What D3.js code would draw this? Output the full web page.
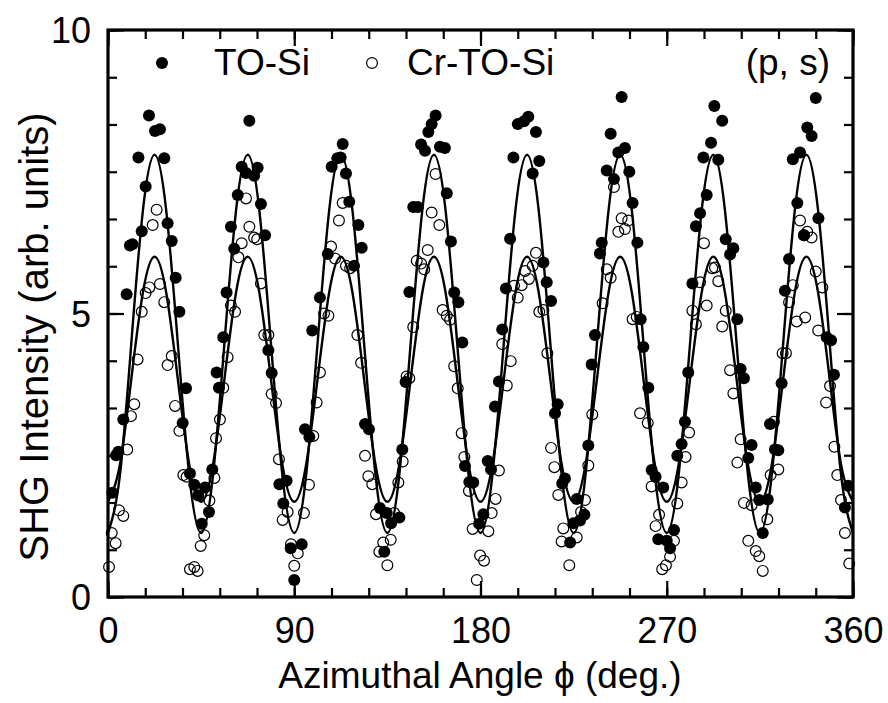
<!DOCTYPE html>
<html><head><meta charset="utf-8">
<script src="https://cdn.jsdelivr.net/npm/d3@7"></script>
<style>body{margin:0;background:#fff}svg{display:block}</style>
</head><body><svg id="c" width="888" height="703"></svg>
<script>
// TO-Si measured data [angle (deg), SHG intensity]
const toSi = [
[2.1,1.84],[3.9,2.50],[5.0,2.56],[7.4,3.13],[9.0,5.34],[10.6,6.20],[11.8,6.22],[14.7,7.75],[16.3,6.45],[18.2,7.24],
[19.8,8.49],[22.7,8.22],[25.1,8.25],[27.2,7.74],[28.8,6.59],[30.8,6.28],[32.7,5.63],[34.5,5.03],[36.1,3.07],[37.7,3.68],
[39.6,2.18],[41.7,1.98],[43.6,1.79],[45.3,1.29],[46.9,1.93],[48.8,1.50],[50.4,2.25],[52.5,3.96],[53.6,3.69],[55.7,4.58],
[57.3,5.37],[59.4,6.53],[61.0,6.14],[62.7,7.09],[64.6,7.59],[66.7,7.48],[68.3,8.40],[70.6,7.43],[72.3,7.57],[73.9,6.93],
[75.9,6.38],[77.5,4.35],[79.1,3.95],[82.8,1.99],[84.7,1.65],[86.3,2.05],[88.3,0.86],[90.0,0.30],[93.6,0.93],[95.2,2.96],
[97.3,2.82],[98.7,4.70],[102.4,5.28],[106.2,6.05],[108.1,7.59],[110.8,7.74],[112.4,7.75],[113.4,7.99],[115.0,7.47],[116.6,6.97],
[118.9,5.84],[121.0,6.56],[122.6,6.16],[124.2,3.05],[126.1,2.96],[131.4,1.57],[133.5,0.80],[134.7,1.48],[136.8,1.30],[140.8,1.40],
[142.2,2.60],[143.8,3.79],[145.6,5.38],[147.5,6.88],[149.7,6.88],[151.3,7.98],[153.2,7.87],[154.8,8.20],[156.4,8.34],[158.3,8.49],
[160.4,7.94],[162.8,7.92],[163.7,7.12],[165.7,6.27],[167.3,5.37],[169.3,5.20],[171.2,4.49],[172.5,2.31],[174.6,2.03],[176.5,2.02],
[179.3,1.29],[181.4,1.46],[183.5,2.40],[185.1,2.25],[187.0,3.36],[188.9,3.80],[190.5,4.72],[192.3,5.44],[194.3,6.32],[195.9,7.75],
[198.0,8.34],[201.0,8.39],[203.1,8.47],[205.2,7.47],[206.8,8.20],[208.4,7.69],[210.4,5.90],[212.0,5.55],[214.1,5.22],[216.0,3.24],
[217.3,3.40],[219.5,2.00],[220.8,2.09],[223.3,0.96],[224.9,1.30],[226.5,1.73],[228.1,1.35],[230.2,1.45],[232.1,2.67],[233.7,4.10],
[235.3,4.62],[237.7,6.06],[238.6,6.25],[241.0,7.52],[242.9,8.17],[244.5,7.37],[246.6,7.84],[248.2,8.82],[249.8,7.92],[251.9,7.50],
[253.5,6.95],[255.8,6.25],[257.4,4.90],[258.7,4.41],[261.1,3.69],[262.7,2.24],[264.6,2.12],[265.9,1.02],[268.3,1.93],[270.0,0.99],
[271.6,0.86],[273.5,1.18],[275.1,2.49],[277.2,2.70],[278.8,3.09],[280.4,3.96],[282.4,5.53],[284.1,6.54],[286.1,6.77],[287.7,7.75],
[289.3,7.09],[291.4,8.01],[293.0,8.66],[294.9,7.71],[296.8,8.40],[298.5,6.31],[300.6,6.04],[302.2,6.15],[304.1,4.90],[305.7,4.02],
[307.3,3.86],[309.4,2.45],[311.0,2.68],[313.0,1.93],[314.7,1.71],[316.4,1.13],[318.8,1.72],[319.9,3.05],[322.3,2.60],[323.9,2.59],
[325.5,3.77],[327.1,5.40],[329.1,5.96],[330.9,7.72],[333.1,6.95],[334.4,7.84],[336.3,6.38],[337.9,8.28],[340.0,8.13],[342.0,8.80],
[343.3,6.68],[347.3,4.58],[349.4,4.53],[350.8,3.92],[356.1,1.58],[357.7,1.96]
];
// Cr-TO-Si measured data [angle (deg), SHG intensity]
const crToSi = [
[0.5,0.53],[1.8,1.13],[3.7,0.95],[5.3,1.53],[7.4,1.43],[9.3,2.60],[11.1,3.19],[12.7,3.40],[14.3,4.19],[16.3,5.03],
[18.2,5.36],[20.0,5.46],[21.6,6.56],[23.5,6.83],[25.1,5.52],[27.2,5.20],[28.8,4.09],[30.8,4.25],[32.4,3.37],[34.5,2.93],
[36.4,2.15],[38.0,2.12],[39.6,0.49],[41.7,0.53],[43.3,0.46],[44.8,0.90],[46.5,1.09],[49.0,1.70],[51.4,2.10],[52.2,2.80],
[54.1,3.13],[55.7,3.69],[57.8,4.23],[59.4,5.14],[61.4,5.03],[63.0,5.99],[64.6,6.24],[66.7,7.03],[68.3,6.53],[70.6,6.34],
[72.1,6.31],[73.9,5.53],[75.5,4.62],[77.5,4.62],[79.1,3.58],[81.2,3.42],[82.6,2.43],[84.4,1.36],[86.8,1.50],[88.4,0.93],
[90.0,0.55],[91.7,0.77],[94.7,1.48],[97.1,1.98],[99.2,2.84],[100.8,3.43],[102.4,3.96],[104.4,5.00],[106.5,4.96],[107.8,6.18],
[109.7,5.97],[111.6,6.64],[113.4,6.95],[115.0,5.84],[117.0,5.80],[120.5,4.62],[122.3,4.13],[124.2,2.49],[125.8,2.13],[127.7,1.99],
[129.5,1.46],[131.1,0.80],[133.0,0.96],[135.0,0.56],[136.6,1.01],[138.3,1.48],[140.3,2.02],[142.4,2.39],[144.3,3.89],[145.6,3.86],
[147.5,4.76],[149.2,5.93],[151.3,5.88],[152.8,5.78],[154.5,6.12],[156.4,6.78],[158.3,7.46],[160.1,6.56],[161.7,5.06],[163.7,4.96],
[165.3,4.89],[167.3,4.07],[169.0,3.68],[170.9,2.89],[172.2,2.47],[174.4,1.87],[176.2,1.20],[178.2,0.30],[179.8,0.73],[181.7,0.64],
[183.8,1.16],[185.4,1.48],[187.3,1.73],[188.9,2.23],[190.5,4.46],[192.7,3.73],[194.6,4.16],[196.2,5.49],[198.0,5.28],[199.9,5.50],
[201.5,5.75],[203.4,5.61],[205.2,5.84],[206.8,6.07],[208.4,5.03],[210.4,5.06],[212.3,4.30],[214.1,2.63],[215.7,2.29],[217.6,1.80],
[219.2,0.98],[220.0,1.21],[222.9,0.56],[226.5,1.05],[228.6,1.50],[230.5,1.71],[232.1,2.32],[234.0,3.22],[239.0,5.18],[241.0,5.78],
[242.9,5.63],[244.5,7.23],[246.6,6.44],[248.2,6.68],[249.8,6.49],[251.4,6.64],[253.5,4.90],[255.5,4.94],[257.1,3.24],[260.8,3.07],
[262.7,1.95],[264.6,1.25],[266.3,1.45],[267.8,0.49],[269.6,0.56],[271.6,0.71],[273.5,0.99],[275.1,1.65],[277.2,2.02],[279.1,2.47],
[280.8,2.90],[282.4,5.05],[284.1,4.81],[286.1,5.55],[288.0,6.24],[289.3,5.14],[292.0,5.80],[293.3,5.81],[294.9,5.57],[296.8,4.77],
[298.5,5.05],[300.6,4.00],[302.2,3.59],[304.1,2.37],[305.7,2.78],[307.3,1.66],[309.4,0.99],[311.0,1.62],[313.0,0.81],[314.7,0.72],
[316.4,0.46],[318.6,1.37],[320.2,2.15],[321.8,3.09],[323.9,2.25],[326.0,4.30],[327.6,4.30],[329.1,5.20],[330.9,5.50],[332.8,4.86],
[334.4,6.64],[336.3,6.38],[336.9,4.93],[337.9,6.44],[340.0,6.34],[342.0,5.74],[343.2,4.70],[345.2,5.46],[347.0,3.43],[348.9,3.72],
[351.0,2.65],[352.4,2.15],[354.2,1.71],[356.1,1.13],[358.2,0.59]
];
const fitStep = 5.625;
const fitToSi = [
1.13,2.11,4.47,6.82,7.80,6.82,4.47,2.11, 1.13,2.11,4.47,6.82,7.80,6.82,4.47,2.11,
1.13,2.11,4.47,6.82,7.80,6.82,4.47,2.11, 1.13,2.11,4.47,6.82,7.80,6.82,4.47,2.11,
1.13,2.11,4.47,6.82,7.80,6.82,4.47,2.11, 1.13,2.11,4.47,6.82,7.80,6.82,4.47,2.11,
1.13,2.11,4.47,6.82,7.80,6.82,4.47,2.11, 1.13,2.11,4.47,6.82,7.80,6.82,4.47,2.11, 1.13];
const fitCrToSi = [
1.68,2.31,3.84,5.37,6.00,5.37,3.84,2.31, 1.68,2.31,3.84,5.37,6.00,5.37,3.84,2.31,
1.68,2.31,3.84,5.37,6.00,5.37,3.84,2.31, 1.68,2.31,3.84,5.37,6.00,5.37,3.84,2.31,
1.68,2.31,3.84,5.37,6.00,5.37,3.84,2.31, 1.68,2.31,3.84,5.37,6.00,5.37,3.84,2.31,
1.68,2.31,3.84,5.37,6.00,5.37,3.84,2.31, 1.68,2.31,3.84,5.37,6.00,5.37,3.84,2.31, 1.68];
const xMajorTicks = [0, 90, 180, 270, 360];
const xMinorTicks = d3.range(0, 361, 18);
const yMajorTicks = [0, 5, 10];
const yMinorTicks = d3.range(0, 13).map(k => k * 5 / 6);
const seriesNames = ["TO-Si", "Cr-TO-Si"];
const panelLabel = "(p, s)";
const xTitle = "Azimuthal Angle \u03D5 (deg.)";
const yTitle = "SHG Intensity (arb. units)";

const FONT = "'Liberation Sans', Arial, Helvetica, sans-serif";
const svg = d3.select("#c");
const L = 108, R = 853, T = 30, B = 597;
const x = d3.scaleLinear().domain([0, 360]).range([L, R]);
const y = d3.scaleLinear().domain([0, 10]).range([B, T]);

// ticks (inward, mirrored)
function tickAxis(axisFn, scale, vals, len, transform) {
  const g = svg.append("g").attr("transform", transform)
    .call(axisFn(scale).tickValues(vals).tickSize(len).tickFormat(""));
  g.select(".domain").remove();
  g.selectAll(".tick line").attr("stroke", "#000").attr("stroke-width", 2.2);
  return g;
}
tickAxis(d3.axisTop, x, xMinorTicks, 9, `translate(0,${B})`);
tickAxis(d3.axisTop, x, xMajorTicks, 16, `translate(0,${B})`);
tickAxis(d3.axisBottom, x, xMinorTicks, 9, `translate(0,${T})`);
tickAxis(d3.axisBottom, x, xMajorTicks, 16, `translate(0,${T})`);
tickAxis(d3.axisRight, y, yMinorTicks, 9, `translate(${L},0)`);
tickAxis(d3.axisRight, y, yMajorTicks, 16, `translate(${L},0)`);
tickAxis(d3.axisLeft, y, yMinorTicks, 9, `translate(${R},0)`);
tickAxis(d3.axisLeft, y, yMajorTicks, 16, `translate(${R},0)`);

// tick labels
const xl = svg.append("g").attr("transform", `translate(0,${B})`)
  .call(d3.axisBottom(x).tickValues(xMajorTicks).tickSize(0).tickPadding(46).tickFormat(d3.format("d")));
xl.select(".domain").remove();
xl.selectAll("text").attr("font-family", FONT).attr("font-size", 36).attr("fill", "#000").attr("dy", 0);
const yl = svg.append("g").attr("transform", `translate(${L},0)`)
  .call(d3.axisLeft(y).tickValues(yMajorTicks).tickSize(0).tickPadding(17).tickFormat(d3.format("d")));
yl.select(".domain").remove();
yl.selectAll("text").attr("font-family", FONT).attr("font-size", 36).attr("fill", "#000").attr("dy", "0.36em");

// fit curves
const fitLine = d3.line().x((d, i) => x(i * fitStep)).y(d => y(d)).curve(d3.curveNatural);
svg.append("path").datum(fitToSi).attr("d", fitLine).attr("fill", "none").attr("stroke", "#000").attr("stroke-width", 2.4);
svg.append("path").datum(fitCrToSi).attr("d", fitLine).attr("fill", "none").attr("stroke", "#000").attr("stroke-width", 2.4);

// data points
svg.append("g").selectAll("circle").data(toSi).join("circle")
  .attr("cx", d => x(d[0])).attr("cy", d => y(d[1])).attr("r", 6).attr("fill", "#000");
svg.append("g").selectAll("circle").data(crToSi).join("circle")
  .attr("cx", d => x(d[0])).attr("cy", d => y(d[1])).attr("r", 5.4)
  .attr("fill", "none").attr("stroke", "#000").attr("stroke-width", 1.2);

// frame
svg.append("rect").attr("x", L).attr("y", T).attr("width", R - L).attr("height", B - T)
  .attr("fill", "none").attr("stroke", "#000").attr("stroke-width", 3.2);

// legend
svg.append("circle").attr("cx", 162).attr("cy", 63).attr("r", 6).attr("fill", "#000");
svg.append("text").attr("x", 214).attr("y", 75).text(seriesNames[0])
  .attr("font-family", FONT).attr("font-size", 37);
svg.append("circle").attr("cx", 372).attr("cy", 63).attr("r", 5.4)
  .attr("fill", "none").attr("stroke", "#000").attr("stroke-width", 1.2);
svg.append("text").attr("x", 407).attr("y", 75).text(seriesNames[1])
  .attr("font-family", FONT).attr("font-size", 37);
svg.append("text").attr("x", 830).attr("y", 75).attr("text-anchor", "end").text(panelLabel)
  .attr("font-family", FONT).attr("font-size", 37);

// axis titles
svg.append("text").attr("x", 480).attr("y", 688).attr("text-anchor", "middle").text(xTitle)
  .attr("font-family", FONT).attr("font-size", 37);
svg.append("text").attr("transform", "translate(48,337) rotate(-90)").attr("text-anchor", "middle").text(yTitle)
  .attr("font-family", FONT).attr("font-size", 40);
</script></body></html>
